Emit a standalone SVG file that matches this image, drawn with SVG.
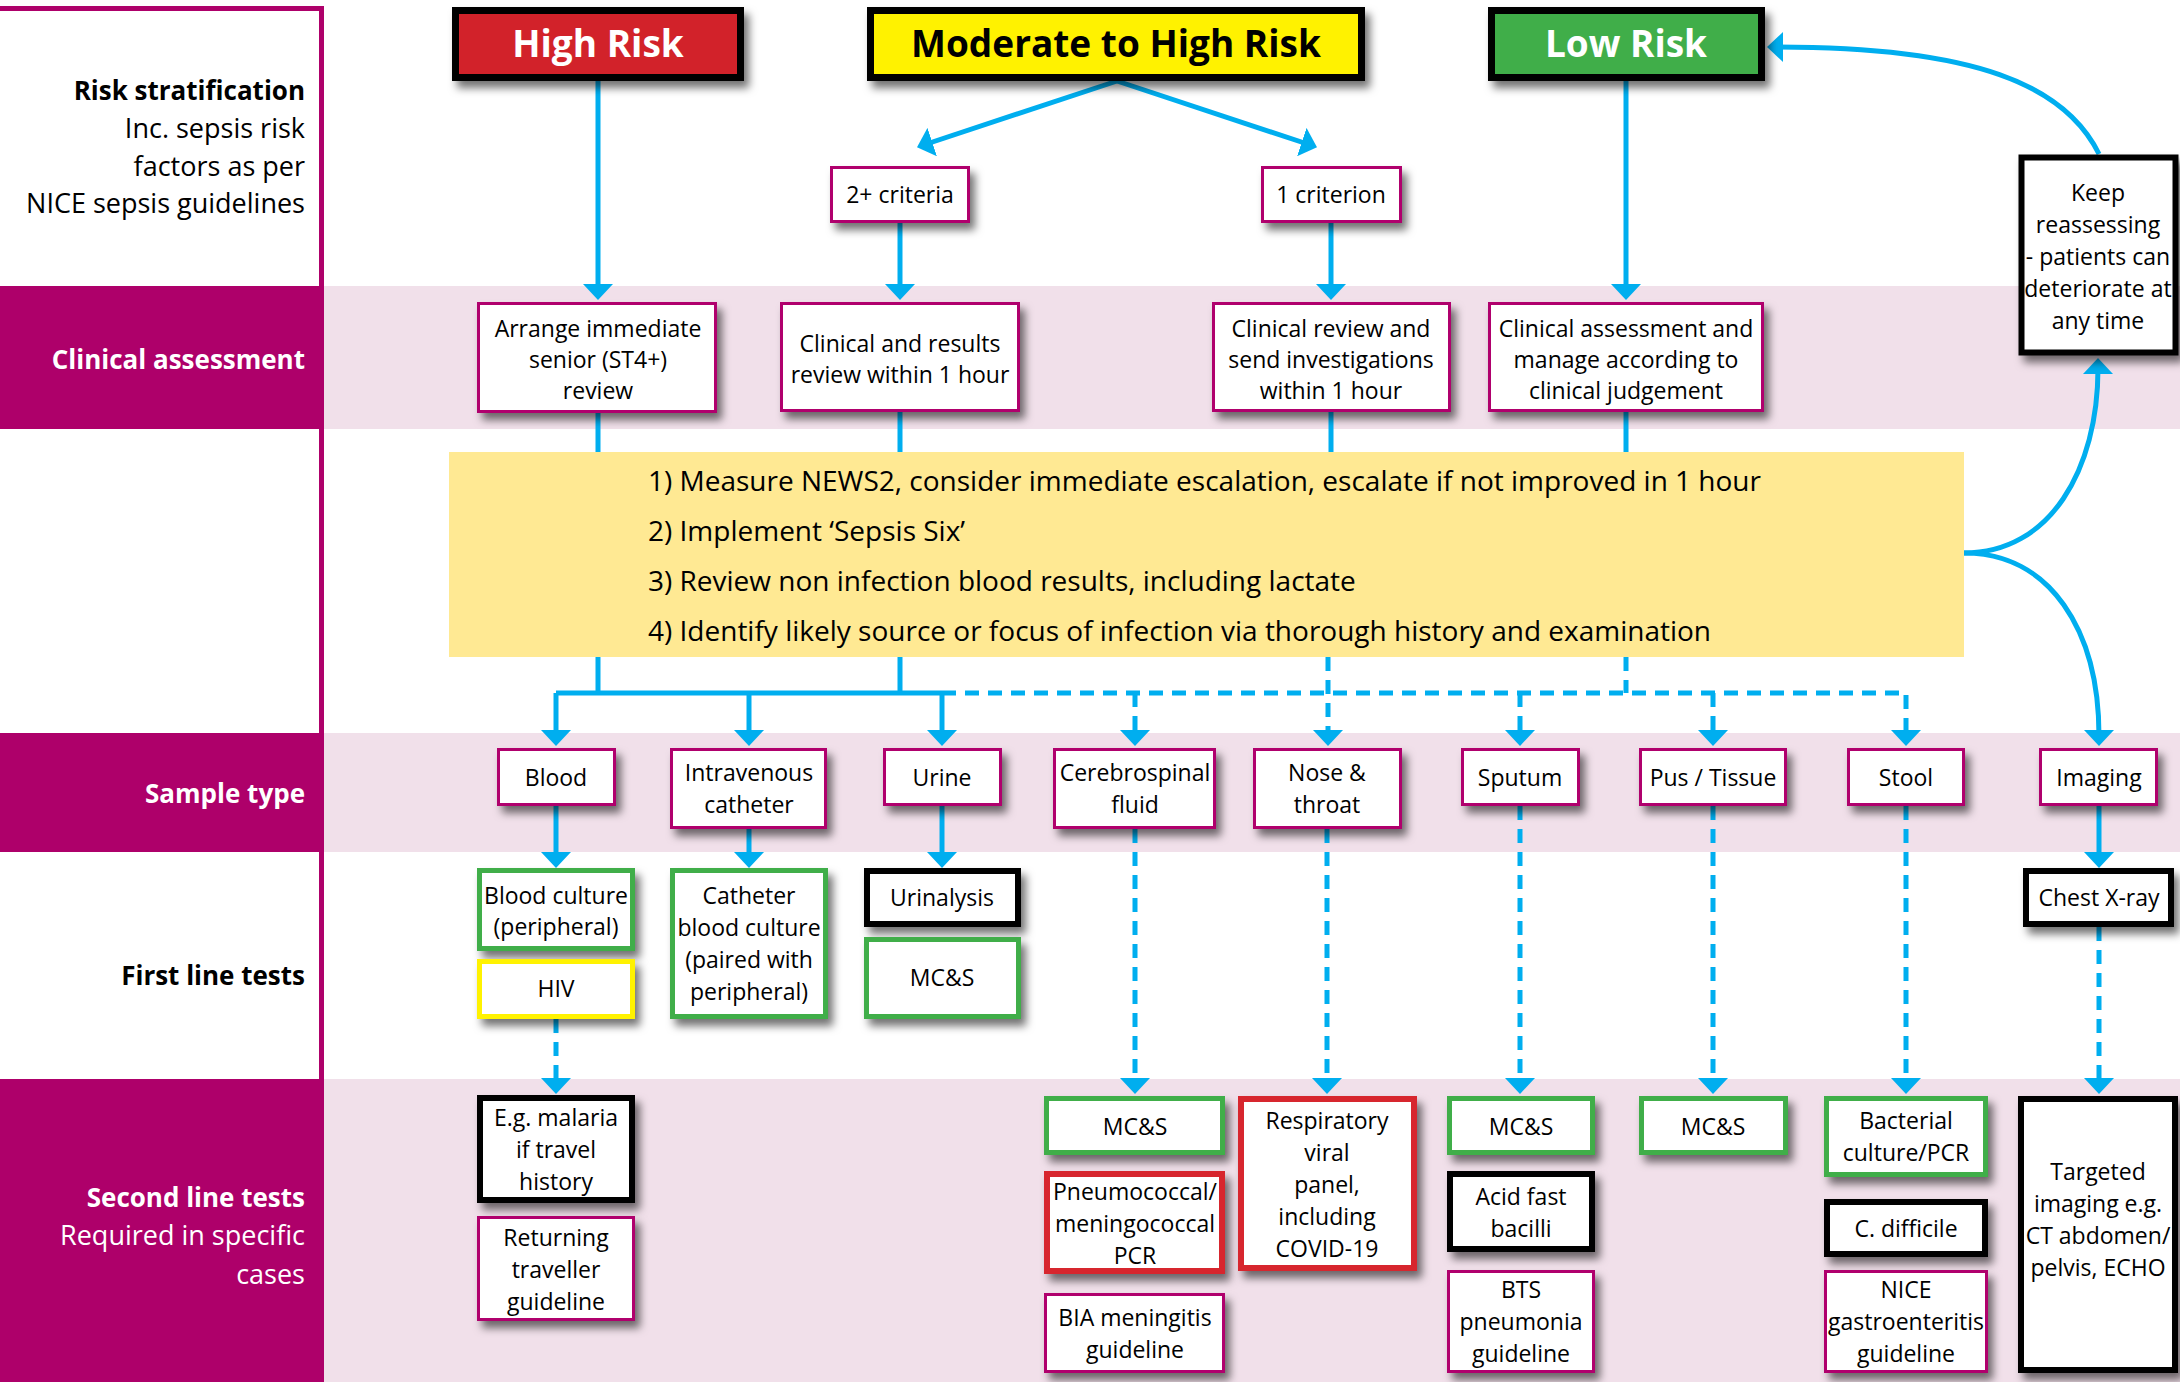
<svg xmlns="http://www.w3.org/2000/svg" width="2180" height="1382" viewBox="0 0 2180 1382">
<defs>
<style>
.t{font-family:"Open Sans","Noto Sans",sans-serif;font-size:23px;fill:#000;text-anchor:middle}
.lbl{font-family:"Open Sans","Noto Sans",sans-serif;font-size:27px;fill:#000;text-anchor:end}
.b{font-weight:bold;font-size:26px}
.w{fill:#fff}
.title{font-family:"Open Sans","Noto Sans",sans-serif;font-size:37px;font-weight:bold;text-anchor:middle}
.yl{font-family:"Open Sans","Noto Sans",sans-serif;font-size:28px;fill:#000}
.mg{fill:#fff;stroke:#B0006D;stroke-width:3}
.gr{fill:#fff;stroke:#3FAE49;stroke-width:5}
.bk{fill:#fff;stroke:#000;stroke-width:6}
.rd{fill:#fff;stroke:#D7262E;stroke-width:6}
.ye{fill:#fff;stroke:#FFF200;stroke-width:5}
.hd{stroke:#000;stroke-width:7}
.c{fill:none;stroke:#00AEEF;stroke-width:5}
.d{stroke-dasharray:14 9}
.a{marker-end:url(#ah)}
</style>
<filter id="sh" x="-20%" y="-20%" width="150%" height="160%">
<feDropShadow dx="5" dy="7" stdDeviation="4" flood-color="#000" flood-opacity="0.55"/>
</filter>
<marker id="ah" markerUnits="userSpaceOnUse" markerWidth="16" markerHeight="30" refX="6" refY="15" orient="auto">
<path d="M0,0 L16,15 L0,30 Z" fill="#00AEEF"/>
</marker>
</defs>
<rect width="2180" height="1382" fill="#fff"/>
<g id="bands">
<rect x="324" y="286" width="1856" height="143" fill="#F1E0EA"/>
<rect x="324" y="733" width="1856" height="119" fill="#F1E0EA"/>
<rect x="324" y="1079" width="1856" height="303" fill="#F1E0EA"/>
<rect x="0" y="286" width="324" height="143" fill="#AE006A"/>
<rect x="0" y="733" width="324" height="119" fill="#AE006A"/>
<rect x="0" y="1079" width="324" height="303" fill="#AE006A"/>
<rect x="0" y="6" width="324" height="5" fill="#AE006A"/>
<rect x="319" y="6" width="5" height="1376" fill="#AE006A"/>
</g>
<g id="row-labels">
<text class="lbl b" x="305" y="100">Risk stratification</text>
<text class="lbl" x="305" y="138">Inc. sepsis risk</text>
<text class="lbl" x="305" y="176">factors as per</text>
<text class="lbl" x="305" y="213">NICE sepsis guidelines</text>
<text class="lbl b w" x="305" y="369">Clinical assessment</text>
<text class="lbl b w" x="305" y="803">Sample type</text>
<text class="lbl b" x="305" y="985">First line tests</text>
<text class="lbl b w" x="305" y="1207">Second line tests</text>
<text class="lbl w" x="305" y="1245">Required in specific</text>
<text class="lbl w" x="305" y="1284">cases</text>
</g>
<g id="yellow-box">
<rect x="449" y="452" width="1515" height="205" fill="#FFE993"/>
<text class="yl" x="648" y="491">1) Measure NEWS2, consider immediate escalation, escalate if not improved in 1 hour</text>
<text class="yl" x="648" y="541">2) Implement ‘Sepsis Six’</text>
<text class="yl" x="648" y="591">3) Review non infection blood results, including lactate</text>
<text class="yl" x="648" y="641">4) Identify likely source or focus of infection via thorough history and examination</text>
</g>
<g id="connectors">
<path class="c a" d="M598,81 V290"/>
<path class="c a" d="M1117,81 L926.5,144"/>
<path class="c a" d="M1117,81 L1307.5,144"/>
<path class="c a" d="M900,223 V290"/>
<path class="c a" d="M1331,223 V290"/>
<path class="c a" d="M1626,81 V290"/>
<path class="c a" d="M2099,154 C2065,85 1975,47 1777,47"/>
<path class="c" d="M598,413 V452 M900,412 V452 M1331,412 V452 M1626,412 V452"/>
<path class="c" d="M598,657 V693 M900,657 V693 M556,693 H942"/>
<path class="c a" d="M556,693 V736"/>
<path class="c a" d="M749,693 V736"/>
<path class="c a" d="M942,693 V736"/>
<path class="c d a" d="M942,693 H1906 V736"/>
<path class="c d a" d="M1135,693 V736"/>
<path class="c d a" d="M1328,657 V736"/>
<path class="c d a" d="M1520,693 V736"/>
<path class="c d a" d="M1713,693 V736"/>
<path class="c d" d="M1626,657 V693"/>
<path class="c a" d="M1964,553 C2050,553 2098,470 2098,368"/>
<path class="c a" d="M1964,553 C2050,553 2099,630 2099,736"/>
<path class="c a" d="M556,806 V858"/>
<path class="c a" d="M749,829 V858"/>
<path class="c a" d="M942,806 V858"/>
<path class="c a" d="M2099,806 V858"/>
<path class="c d a" d="M1135,829 V1084"/>
<path class="c d a" d="M1327,829 V1084"/>
<path class="c d a" d="M1520,806 V1084"/>
<path class="c d a" d="M1713,806 V1084"/>
<path class="c d a" d="M1906,806 V1084"/>
<path class="c d a" d="M556,1019 V1084"/>
<path class="c d a" d="M2099,927 V1084"/>
</g>
<g id="high-risk">
<rect class="hd" x="455.5" y="10.5" width="285" height="67" fill="#D2232A" filter="url(#sh)"/>
<text class="title w" x="598" y="57">High Risk</text>
</g>
<g id="moderate-risk">
<rect class="hd" x="870.5" y="10.5" width="491" height="67" fill="#FFF200" filter="url(#sh)"/>
<text class="title" x="1116" y="57">Moderate to High Risk</text>
</g>
<g id="low-risk">
<rect class="hd" x="1491.5" y="10.5" width="270" height="67" fill="#3FAE49" filter="url(#sh)"/>
<text class="title w" x="1626" y="57">Low Risk</text>
</g>
<g id="two-criteria">
<rect class="mg" x="831.5" y="167.5" width="137" height="54" filter="url(#sh)"/>
<text class="t" x="900" y="203">2+ criteria</text>
</g>
<g id="one-criterion">
<rect class="mg" x="1262.5" y="167.5" width="138" height="54" filter="url(#sh)"/>
<text class="t" x="1331" y="203">1 criterion</text>
</g>
<g id="arrange-review">
<rect class="mg" x="478.5" y="303.5" width="237" height="108" filter="url(#sh)"/>
<text class="t" x="598" y="337">Arrange immediate</text>
<text class="t" x="598" y="368">senior (ST4+)</text>
<text class="t" x="598" y="399">review</text>
</g>
<g id="clinical-results">
<rect class="mg" x="781.5" y="303.5" width="237" height="107" filter="url(#sh)"/>
<text class="t" x="900" y="352">Clinical and results</text>
<text class="t" x="900" y="383">review within 1 hour</text>
</g>
<g id="clinical-review">
<rect class="mg" x="1213.5" y="303.5" width="236" height="107" filter="url(#sh)"/>
<text class="t" x="1331" y="337">Clinical review and</text>
<text class="t" x="1331" y="368">send investigations</text>
<text class="t" x="1331" y="399">within 1 hour</text>
</g>
<g id="clinical-assessment">
<rect class="mg" x="1489.5" y="303.5" width="273" height="107" filter="url(#sh)"/>
<text class="t" x="1626" y="337">Clinical assessment and</text>
<text class="t" x="1626" y="368">manage according to</text>
<text class="t" x="1626" y="399">clinical judgement</text>
</g>
<g id="keep-reassessing">
<rect class="bk" x="2021.5" y="157.5" width="154" height="195" stroke-width="7" filter="url(#sh)"/>
<text class="t" x="2098" y="201">Keep</text>
<text class="t" x="2098" y="233">reassessing</text>
<text class="t" x="2098" y="265">- patients can</text>
<text class="t" x="2098" y="297">deteriorate at</text>
<text class="t" x="2098" y="329">any time</text>
</g>
<g id="blood">
<rect class="mg" x="498.5" y="749.5" width="116" height="55" filter="url(#sh)"/>
<text class="t" x="556" y="786">Blood</text>
</g>
<g id="iv-catheter">
<rect class="mg" x="671.5" y="749.5" width="154" height="78" filter="url(#sh)"/>
<text class="t" x="749" y="781">Intravenous</text>
<text class="t" x="749" y="813">catheter</text>
</g>
<g id="urine">
<rect class="mg" x="884.5" y="749.5" width="116" height="55" filter="url(#sh)"/>
<text class="t" x="942" y="786">Urine</text>
</g>
<g id="csf">
<rect class="mg" x="1054.5" y="749.5" width="160" height="78" filter="url(#sh)"/>
<text class="t" x="1135" y="781">Cerebrospinal</text>
<text class="t" x="1135" y="813">fluid</text>
</g>
<g id="nose-throat">
<rect class="mg" x="1254.5" y="749.5" width="146" height="78" filter="url(#sh)"/>
<text class="t" x="1327" y="781">Nose &amp;</text>
<text class="t" x="1327" y="813">throat</text>
</g>
<g id="sputum">
<rect class="mg" x="1462.5" y="749.5" width="116" height="55" filter="url(#sh)"/>
<text class="t" x="1520" y="786">Sputum</text>
</g>
<g id="pus-tissue">
<rect class="mg" x="1640.5" y="749.5" width="145" height="55" filter="url(#sh)"/>
<text class="t" x="1713" y="786">Pus / Tissue</text>
</g>
<g id="stool">
<rect class="mg" x="1848.5" y="749.5" width="115" height="55" filter="url(#sh)"/>
<text class="t" x="1906" y="786">Stool</text>
</g>
<g id="imaging">
<rect class="mg" x="2040.5" y="749.5" width="116" height="55" filter="url(#sh)"/>
<text class="t" x="2099" y="786">Imaging</text>
</g>
<g id="blood-culture">
<rect class="gr" x="479.5" y="870.5" width="153" height="78" filter="url(#sh)"/>
<text class="t" x="556" y="904">Blood culture</text>
<text class="t" x="556" y="935">(peripheral)</text>
</g>
<g id="hiv">
<rect class="ye" x="479.5" y="961.5" width="153" height="55" filter="url(#sh)"/>
<text class="t" x="556" y="997">HIV</text>
</g>
<g id="catheter-culture">
<rect class="gr" x="672.5" y="870.5" width="153" height="146" filter="url(#sh)"/>
<text class="t" x="749" y="904">Catheter</text>
<text class="t" x="749" y="936">blood culture</text>
<text class="t" x="749" y="968">(paired with</text>
<text class="t" x="749" y="1000">peripheral)</text>
</g>
<g id="urinalysis">
<rect class="bk" x="867" y="871" width="151" height="53" filter="url(#sh)"/>
<text class="t" x="942" y="906">Urinalysis</text>
</g>
<g id="urine-mcs">
<rect class="gr" x="866.5" y="939.5" width="152" height="77" filter="url(#sh)"/>
<text class="t" x="942" y="986">MC&amp;S</text>
</g>
<g id="chest-xray">
<rect class="bk" x="2026" y="871" width="145" height="53" filter="url(#sh)"/>
<text class="t" x="2099" y="906">Chest X-ray</text>
</g>
<g id="malaria">
<rect class="bk" x="480" y="1098" width="152" height="102" filter="url(#sh)"/>
<text class="t" x="556" y="1126">E.g. malaria</text>
<text class="t" x="556" y="1158">if travel</text>
<text class="t" x="556" y="1190">history</text>
</g>
<g id="returning-traveller">
<rect class="mg" x="478.5" y="1217.5" width="155" height="102" filter="url(#sh)"/>
<text class="t" x="556" y="1246">Returning</text>
<text class="t" x="556" y="1278">traveller</text>
<text class="t" x="556" y="1310">guideline</text>
</g>
<g id="csf-mcs">
<rect class="gr" x="1046.5" y="1098.5" width="176" height="54" filter="url(#sh)"/>
<text class="t" x="1135" y="1135">MC&amp;S</text>
</g>
<g id="pneumococcal-pcr">
<rect class="rd" x="1047" y="1174" width="175" height="97" filter="url(#sh)"/>
<text class="t" x="1135" y="1200">Pneumococcal/</text>
<text class="t" x="1135" y="1232">meningococcal</text>
<text class="t" x="1135" y="1264">PCR</text>
</g>
<g id="bia-guideline">
<rect class="mg" x="1045.5" y="1294.5" width="178" height="77" filter="url(#sh)"/>
<text class="t" x="1135" y="1326">BIA meningitis</text>
<text class="t" x="1135" y="1358">guideline</text>
</g>
<g id="respiratory-panel">
<rect class="rd" x="1241" y="1099" width="173" height="169" filter="url(#sh)"/>
<text class="t" x="1327" y="1129">Respiratory</text>
<text class="t" x="1327" y="1161">viral</text>
<text class="t" x="1327" y="1193">panel,</text>
<text class="t" x="1327" y="1225">including</text>
<text class="t" x="1327" y="1257">COVID-19</text>
</g>
<g id="sputum-mcs">
<rect class="gr" x="1449.5" y="1098.5" width="143" height="54" filter="url(#sh)"/>
<text class="t" x="1521" y="1135">MC&amp;S</text>
</g>
<g id="acid-fast">
<rect class="bk" x="1450" y="1174" width="142" height="75" filter="url(#sh)"/>
<text class="t" x="1521" y="1205">Acid fast</text>
<text class="t" x="1521" y="1237">bacilli</text>
</g>
<g id="bts-guideline">
<rect class="mg" x="1448.5" y="1271.5" width="145" height="100" filter="url(#sh)"/>
<text class="t" x="1521" y="1298">BTS</text>
<text class="t" x="1521" y="1330">pneumonia</text>
<text class="t" x="1521" y="1362">guideline</text>
</g>
<g id="pus-mcs">
<rect class="gr" x="1641.5" y="1098.5" width="144" height="54" filter="url(#sh)"/>
<text class="t" x="1713" y="1135">MC&amp;S</text>
</g>
<g id="bacterial-culture">
<rect class="gr" x="1826.5" y="1098.5" width="159" height="76" filter="url(#sh)"/>
<text class="t" x="1906" y="1129">Bacterial</text>
<text class="t" x="1906" y="1161">culture/PCR</text>
</g>
<g id="c-difficile">
<rect class="bk" x="1827" y="1202" width="158" height="52" filter="url(#sh)"/>
<text class="t" x="1906" y="1237">C. difficile</text>
</g>
<g id="nice-gastro">
<rect class="mg" x="1825.5" y="1271.5" width="161" height="100" filter="url(#sh)"/>
<text class="t" x="1906" y="1298">NICE</text>
<text class="t" x="1906" y="1330">gastroenteritis</text>
<text class="t" x="1906" y="1362">guideline</text>
</g>
<g id="targeted-imaging">
<rect class="bk" x="2021" y="1099" width="154" height="271" filter="url(#sh)"/>
<text class="t" x="2098" y="1180">Targeted</text>
<text class="t" x="2098" y="1212">imaging e.g.</text>
<text class="t" x="2098" y="1244">CT abdomen/</text>
<text class="t" x="2098" y="1276">pelvis, ECHO</text>
</g>
</svg>
